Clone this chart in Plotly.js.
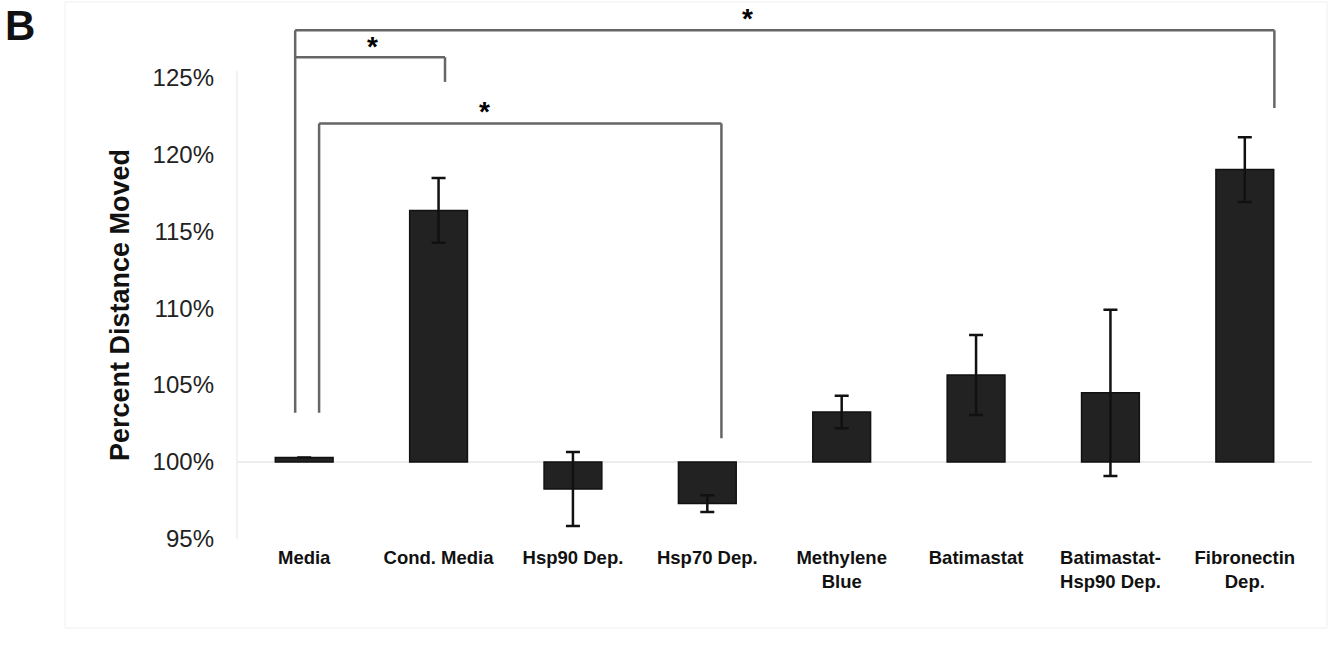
<!DOCTYPE html>
<html>
<head>
<meta charset="utf-8">
<script src="https://cdn.plot.ly/plotly-3.0.1.min.js"></script>
<style>html,body{margin:0;padding:0;background:#fff;}#chart{width:1331px;height:656px;}</style>
</head>
<body>
<div id="chart"></div>
<script>
const categories = ['Media', 'Cond. Media', 'Hsp90 Dep.', 'Hsp70 Dep.', 'Methylene Blue', 'Batimastat', 'Batimastat-Hsp90 Dep.', 'Fibronectin Dep.'];
const tickLabels = ['Media', 'Cond. Media', 'Hsp90 Dep.', 'Hsp70 Dep.', 'Methylene<br>Blue', 'Batimastat', 'Batimastat-<br>Hsp90 Dep.', 'Fibronectin<br>Dep.'];
const percentMoved = [100.3, 116.35, 98.25, 97.3, 103.25, 105.65, 104.5, 119.0];
const errorSE = [0, 2.1, 2.4, 0.55, 1.05, 2.6, 5.4, 2.1];
const yTickVals = [95, 100, 105, 110, 115, 120, 125];
const yTickText = ['95%', '100%', '105%', '110%', '115%', '120%', '125%'];
const baseline = 100;

const idx = categories.map((c, i) => i);

const trace = {
  type: 'bar',
  x: idx,
  y: percentMoved.map(v => v - baseline),
  base: baseline,
  marker: {color: '#222222', line: {color: '#111111', width: 1.5}},
  error_y: {type: 'data', array: errorSE, visible: true, color: '#111111', thickness: 2.5, width: 7},
  hoverinfo: 'skip'
};

const bracketColor = '#666666';
const lw = 2.5;
function seg(x0, y0, x1, y1) {
  return {type: 'line', xref: 'x', yref: 'y', x0: x0, y0: y0, x1: x1, y1: y1, line: {color: bracketColor, width: lw}};
}

const shapes = [
  {type: 'line', xref: 'paper', yref: 'y', x0: 0, x1: 1, y0: 100, y1: 100, line: {color: '#e6e6e6', width: 1.5}, layer: 'below'},
  {type: 'line', xref: 'paper', yref: 'y', x0: 0, x1: 0, y0: 95, y1: 125.4, line: {color: '#eeeeee', width: 1.5}, layer: 'below'},
  // Media vs Fibronectin bracket
  seg(-0.067, 103.2, -0.067, 128.05),
  seg(-0.067, 128.05, 7.22, 128.05),
  seg(7.22, 128.05, 7.22, 123.0),
  // Media vs Cond. Media bracket
  seg(-0.067, 126.3, 1.048, 126.3),
  seg(1.048, 126.3, 1.048, 124.7),
  // Media vs Hsp70 bracket
  seg(0.111, 103.2, 0.111, 122.0),
  seg(0.111, 122.0, 3.105, 122.0),
  seg(3.105, 122.0, 3.105, 101.55),
  {type: 'rect', xref: 'paper', yref: 'paper', x0: (65 - 237) / 1075, x1: (1327 - 237) / 1075, y0: (539 - 628) / 531, y1: (539 - 2) / 531, line: {color: '#f0f0f0', width: 1}, layer: 'below'}
];

const starFont = {family: 'Liberation Sans, Arial, sans-serif', size: 28, color: '#000'};
const annotations = [
  {xref: 'x', yref: 'y', x: 0.505, y: 127.0, text: '<b>*</b>', showarrow: false, font: starFont},
  {xref: 'x', yref: 'y', x: 1.345, y: 122.8, text: '<b>*</b>', showarrow: false, font: starFont},
  {xref: 'x', yref: 'y', x: 3.3, y: 128.85, text: '<b>*</b>', showarrow: false, font: starFont},
  {xref: 'paper', yref: 'y', x: (120 - 237) / 1075, y: 110.2, xanchor: 'center', yanchor: 'middle', text: '<b>Percent Distance Moved</b>', textangle: -90, showarrow: false,
   font: {family: 'Liberation Sans, Arial, sans-serif', size: 27, color: '#111'}},
  {xref: 'paper', yref: 'paper', x: (20 - 237) / 1075, y: (539 - 25) / 531, xanchor: 'center', yanchor: 'middle', text: '<b>B</b>', showarrow: false,
   font: {family: 'Liberation Sans, Arial, sans-serif', size: 42, color: '#111'}}
];

const layout = {
  width: 1331, height: 656,
  margin: {l: 237, r: 19, t: 8, b: 117, pad: 0},
  paper_bgcolor: '#ffffff', plot_bgcolor: '#ffffff',
  showlegend: false,
  bargap: 0.57,
  xaxis: {
    type: 'linear', range: [-0.5, 7.5], tickvals: idx, ticktext: tickLabels,
    showgrid: false, zeroline: false, showline: false, ticks: '',
    tickfont: {family: 'Liberation Sans, Arial, sans-serif', size: 18.5, color: '#111', weight: 'bold'},
    ticklabelstandoff: 5, fixedrange: true
  },
  yaxis: {
    range: [95, 129.5], tickvals: yTickVals, ticktext: yTickText,
    showgrid: false, zeroline: false, showline: false, ticks: '',
    tickfont: {family: 'Liberation Sans, Arial, sans-serif', size: 24, color: '#222'},
    ticklabelstandoff: 22, fixedrange: true
  },
  shapes: shapes,
  annotations: annotations
};

Plotly.newPlot('chart', [trace], layout, {displayModeBar: false, staticPlot: true});
</script>
</body>
</html>
